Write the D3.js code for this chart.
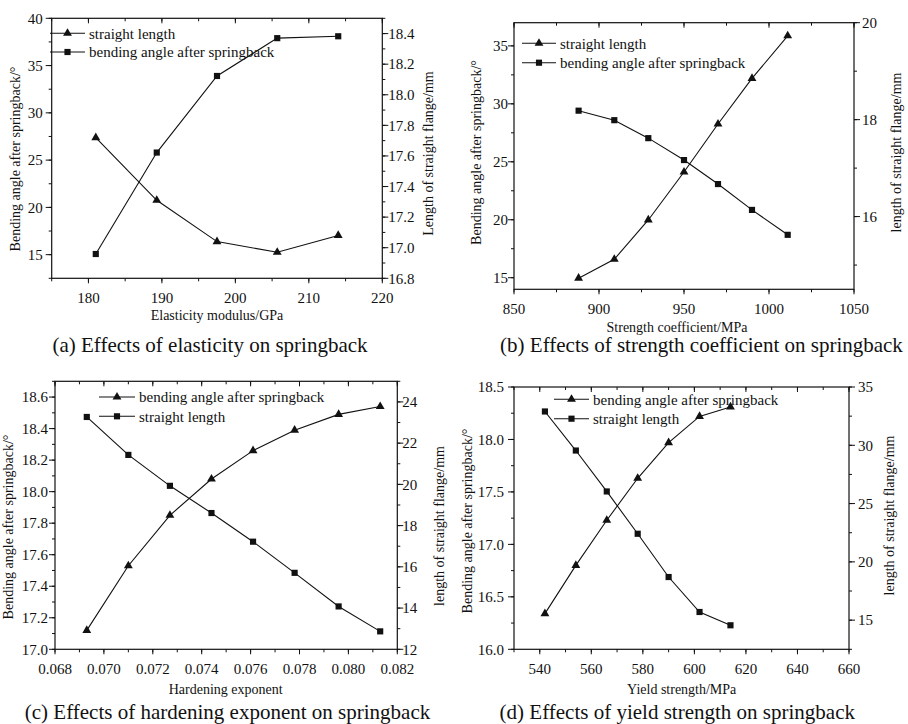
<!DOCTYPE html>
<html>
<head>
<meta charset="utf-8">
<script src="https://cdn.jsdelivr.net/npm/d3@7"></script>
<style>
  body { margin: 0; background: #fff; }
  svg { font-family: "Liberation Serif", "Times New Roman", serif; }
  .tick-label { font-size: 15px; fill: #111; }
  .axis-title { font-size: 14px; fill: #111; }
  .legend-text { font-size: 15px; fill: #111; }
  .panel-title { font-size: 21px; fill: #111; }
</style>
</head>
<body>
<svg id="chart" width="908" height="724"></svg>
<script>
// (a) elasticity modulus
const modulusA = [181, 189.3, 197.5, 205.7, 214];
const lengthA = [17.72, 17.31, 17.04, 16.97, 17.08];
const angleA = [15.07, 25.8, 33.9, 37.9, 38.1];

// (b) strength coefficient
const coeffB = [888, 909, 929, 950, 970, 990, 1011];
const lengthB = [14.73, 15.12, 15.93, 16.92, 17.91, 18.85, 19.73];
const angleB = [29.41, 28.59, 27.04, 25.15, 23.08, 20.85, 18.70];

// (c) hardening exponent
const exponentC = [0.0693, 0.0710, 0.0727, 0.0744, 0.0761, 0.0778, 0.0796, 0.0813];
const angleC = [17.12, 17.53, 17.85, 18.08, 18.26, 18.39, 18.49, 18.54];
const lengthC = [23.27, 21.43, 19.93, 18.61, 17.22, 15.71, 14.08, 12.87];

// (d) yield strength
const yieldD = [542, 554, 566, 578, 590, 602, 614];
const angleD = [16.34, 16.80, 17.23, 17.63, 17.97, 18.22, 18.31];
const lengthD = [32.9, 29.55, 26.04, 22.41, 18.7, 15.7, 14.56];

// axis ticks (major, minor)
const ticksA = { x: [d3.range(180, 221, 10), d3.range(175, 221, 5)], yl: [d3.range(15, 41, 5), d3.range(12.5, 40.1, 2.5)], yr: [d3.range(16.8, 18.41, 0.2), d3.range(16.8, 18.51, 0.1)] };
const ticksB = { x: [d3.range(850, 1051, 50), d3.range(850, 1051, 25)], yl: [d3.range(15, 36, 5), d3.range(15, 37, 2.5)], yr: [[16, 18, 20], d3.range(15, 20.1, 1)] };
const ticksC = { x: [d3.range(0.068, 0.0821, 0.002), d3.range(0.068, 0.0821, 0.001)], yl: [d3.range(17.0, 18.61, 0.2), d3.range(17.0, 18.71, 0.1)], yr: [d3.range(12, 24.1, 2), d3.range(12, 25.1, 1)] };
const ticksD = { x: [d3.range(540, 661, 20), d3.range(530, 661, 10)], yl: [d3.range(16.0, 18.51, 0.5), d3.range(16.0, 18.51, 0.25)], yr: [d3.range(15, 35.1, 5), d3.range(12.5, 35.1, 2.5)] };

const svg = d3.select("#chart");

function drawPanel(p) {
    const g = svg.append("g");

    const x = d3.scaleLinear().domain(p.xDomain).range([p.left, p.right]);
    const yL = d3.scaleLinear().domain(p.ylDomain).range([p.bottom, p.top]);
    const yR = d3.scaleLinear().domain(p.yrDomain).range([p.bottom, p.top]);

    // frame
    g.append("rect")
        .attr("x", p.left).attr("y", p.top)
        .attr("width", p.right - p.left).attr("height", p.bottom - p.top)
        .attr("fill", "none").attr("stroke", "#111").attr("stroke-width", 1.2);

    const fmtX = p.xFmt, fmtL = p.ylFmt, fmtR = p.yrFmt;

    // bottom ticks (outward) and top ticks (inward)
    p.ticks.x[1].forEach(v => {
        const xx = x(v);
        g.append("line").attr("x1", xx).attr("x2", xx).attr("y1", p.bottom).attr("y2", p.bottom + 3).attr("stroke", "#111");
        g.append("line").attr("x1", xx).attr("x2", xx).attr("y1", p.top).attr("y2", p.top + 3).attr("stroke", "#111");
    });
    p.ticks.x[0].forEach(v => {
        const xx = x(v);
        g.append("line").attr("x1", xx).attr("x2", xx).attr("y1", p.bottom).attr("y2", p.bottom + 5).attr("stroke", "#111");
        g.append("line").attr("x1", xx).attr("x2", xx).attr("y1", p.top).attr("y2", p.top + 5).attr("stroke", "#111");
        g.append("text").attr("class", "tick-label")
            .attr("x", xx).attr("y", p.bottom + 19).attr("dy", "0.35em")
            .attr("text-anchor", "middle").text(fmtX(v));
    });

    // left axis
    p.ticks.yl[1].forEach(v => {
        g.append("line").attr("x1", p.left - 3).attr("x2", p.left).attr("y1", yL(v)).attr("y2", yL(v)).attr("stroke", "#111");
    });
    p.ticks.yl[0].forEach(v => {
        g.append("line").attr("x1", p.left - 6).attr("x2", p.left).attr("y1", yL(v)).attr("y2", yL(v)).attr("stroke", "#111");
        g.append("text").attr("class", "tick-label")
            .attr("x", p.left - p.padL).attr("y", yL(v)).attr("dy", "0.35em")
            .attr("text-anchor", "end").text(fmtL(v));
    });

    // right axis
    p.ticks.yr[1].forEach(v => {
        g.append("line").attr("x1", p.right).attr("x2", p.right + 3).attr("y1", yR(v)).attr("y2", yR(v)).attr("stroke", "#111");
    });
    p.ticks.yr[0].forEach(v => {
        g.append("line").attr("x1", p.right).attr("x2", p.right + 6).attr("y1", yR(v)).attr("y2", yR(v)).attr("stroke", "#111");
        g.append("text").attr("class", "tick-label")
            .attr("x", p.right + p.padR).attr("y", yR(v)).attr("dy", "0.35em")
            .attr("text-anchor", "start").text(fmtR(v));
    });

    // series
    p.series.forEach(s => {
        const y = s.axis === "left" ? yL : yR;
        const pts = s.values.map((v, i) => [x(p.xValues[i]), y(v)]);
        g.append("path")
            .attr("d", d3.line()(pts))
            .attr("fill", "none").attr("stroke", "#111").attr("stroke-width", 1.1);
        g.selectAll(null).data(pts).enter().append("path")
            .attr("transform", d => `translate(${d[0]},${d[1]})`)
            .attr("d", d3.symbol().type(s.symbol).size(s.symbol === d3.symbolTriangle ? 34 : 38))
            .attr("fill", "#111");
    });

    // legend
    p.series.forEach((s, i) => {
        const ly = p.legend.y[i];
        g.append("line").attr("x1", p.legend.x0).attr("x2", p.legend.x1).attr("y1", ly).attr("y2", ly)
            .attr("stroke", "#111").attr("stroke-width", 1.1);
        g.append("path")
            .attr("transform", `translate(${(p.legend.x0 + p.legend.x1) / 2},${ly})`)
            .attr("d", d3.symbol().type(s.symbol).size(s.symbol === d3.symbolTriangle ? 34 : 38))
            .attr("fill", "#111");
        g.append("text").attr("class", "legend-text")
            .attr("x", p.legend.x1 + 4).attr("y", ly).attr("dy", "0.35em")
            .text(s.name);
    });

    // axis titles
    g.append("text").attr("class", "axis-title")
        .attr("x", p.xTitle[0]).attr("y", p.xTitle[1]).attr("dy", "0.35em")
        .attr("text-anchor", "middle").text(p.xLabel);
    g.append("text").attr("class", "axis-title")
        .attr("transform", `translate(${p.lTitle[0]},${p.lTitle[1]}) rotate(-90)`)
        .attr("dy", "0.35em").attr("text-anchor", "middle").text(p.ylLabel);
    g.append("text").attr("class", "axis-title")
        .attr("transform", `translate(${p.rTitle[0]},${p.rTitle[1]}) rotate(-90)`)
        .attr("dy", "0.35em").attr("text-anchor", "middle").text(p.yrLabel);

    // panel caption
    g.append("text").attr("class", "panel-title")
        .attr("x", p.caption[0]).attr("y", p.caption[1]).attr("dy", "0.35em")
        .attr("text-anchor", "middle").text(p.title);
}

const f0 = d3.format("d"), f1 = d3.format(".1f"), f3 = d3.format(".3f");

drawPanel({
    left: 51.7, right: 382.3, top: 18.3, bottom: 278.3,
    xDomain: [175, 220], ylDomain: [12.5, 40], yrDomain: [16.8, 18.5],
    ticks: ticksA, xFmt: f0, ylFmt: f0, yrFmt: f1, padL: 9, padR: 6,
    xValues: modulusA,
    series: [
        { name: "straight length", values: lengthA, axis: "right", symbol: d3.symbolTriangle },
        { name: "bending angle after springback", values: angleA, axis: "left", symbol: d3.symbolSquare }
    ],
    legend: { x0: 50, x1: 85, y: [33.3, 52] },
    xLabel: "Elasticity modulus/GPa", ylLabel: "Bending angle after springback/°", yrLabel: "Length of straight flange/mm",
    xTitle: [217, 315], lTitle: [15, 159], rTitle: [428, 153.5],
    title: "(a) Effects of elasticity on springback", caption: [210, 345]
});

drawPanel({
    left: 514, right: 854, top: 22.7, bottom: 289.3,
    xDomain: [850, 1050], ylDomain: [14, 37], yrDomain: [14.5, 20],
    ticks: ticksB, xFmt: f0, ylFmt: f0, yrFmt: f0, padL: 6, padR: 8,
    xValues: coeffB,
    series: [
        { name: "straight length", values: lengthB, axis: "right", symbol: d3.symbolTriangle },
        { name: "bending angle after springback", values: angleB, axis: "left", symbol: d3.symbolSquare }
    ],
    legend: { x0: 522, x1: 556, y: [43.3, 62.7] },
    xLabel: "Strength coefficient/MPa", ylLabel: "Bending angle after springback/°", yrLabel: "length of straight flange/mm",
    xTitle: [677, 326.7], lTitle: [475.7, 152.5], rTitle: [895.7, 152.5],
    title: "(b) Effects of strength coefficient on springback", caption: [701.5, 345]
});

drawPanel({
    left: 55, right: 397.3, top: 381.3, bottom: 649.3,
    xDomain: [0.068, 0.082], ylDomain: [17.0, 18.7], yrDomain: [12, 25],
    ticks: ticksC, xFmt: f3, ylFmt: f1, yrFmt: f0, padL: 7, padR: 5,
    xValues: exponentC,
    series: [
        { name: "bending angle after springback", values: angleC, axis: "left", symbol: d3.symbolTriangle },
        { name: "straight length", values: lengthC, axis: "right", symbol: d3.symbolSquare }
    ],
    legend: { x0: 99, x1: 135, y: [397, 416.3] },
    xLabel: "Hardening exponent", ylLabel: "Bending angle after springback/°", yrLabel: "length of straight flange/mm",
    xTitle: [225.7, 689.3], lTitle: [8, 527], rTitle: [439.3, 526],
    title: "(c) Effects of hardening exponent on springback", caption: [227.5, 712]
});

drawPanel({
    left: 514, right: 849, top: 387, bottom: 649.3,
    xDomain: [530, 660], ylDomain: [16.0, 18.5], yrDomain: [12.5, 35],
    ticks: ticksD, xFmt: f0, ylFmt: f1, yrFmt: f0, padL: 10, padR: 9,
    xValues: yieldD,
    series: [
        { name: "bending angle after springback", values: angleD, axis: "left", symbol: d3.symbolTriangle },
        { name: "straight length", values: lengthD, axis: "right", symbol: d3.symbolSquare }
    ],
    legend: { x0: 554, x1: 589, y: [399.3, 418.7] },
    xLabel: "Yield strength/MPa", ylLabel: "Bending angle after springback/°", yrLabel: "length of straight flange/mm",
    xTitle: [681.7, 688.7], lTitle: [466.7, 521], rTitle: [889, 515.5],
    title: "(d) Effects of yield strength on springback", caption: [677.3, 712]
});
</script>
</body>
</html>
